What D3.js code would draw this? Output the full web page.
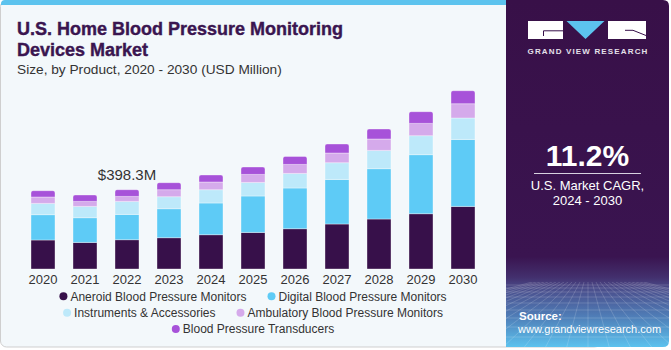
<!DOCTYPE html>
<html>
<head>
<meta charset="utf-8">
<script src="https://cdn.jsdelivr.net/npm/d3@7"></script>
<style>
  html, body { margin: 0; padding: 0; background: #ffffff; }
  svg { display: block; font-family: "Liberation Sans", Arial, sans-serif; }
</style>
</head>
<body>
<div id="chart"></div>
<script>
'use strict';

// data (USD Million)
const years = ['2020', '2021', '2022', '2023', '2024', '2025', '2026', '2027', '2028', '2029', '2030'];
const aneroid = [145.7, 133.6, 147.2, 157.2, 172.3, 183.8, 202.4, 226.0, 251.2, 277.8, 314.4];
const digital = [127.1, 124.1, 127.1, 145.7, 159.2, 182.8, 204.4, 224.0, 252.7, 296.4, 336.5];
const instruments = [56.8, 56.8, 65.3, 60.3, 66.8, 68.3, 73.3, 83.9, 91.9, 95.4, 107.5];
const ambulatory = [32.1, 25.1, 25.0, 35.2, 38.7, 40.2, 45.2, 48.7, 57.3, 61.8, 71.8];
const transducers = [31.6, 32.1, 33.7, 35.2, 35.2, 37.2, 40.2, 45.2, 50.2, 58.8, 65.3];

const seriesNames = [
    'Aneroid Blood Pressure Monitors',
    'Digital Blood Pressure Monitors',
    'Instruments & Accessories',
    'Ambulatory Blood Pressure Monitors',
    'Blood Pressure Transducers'
];
const seriesColors = ['#37104a', '#5ecbf6', '#bde9fa', '#d5aaeb', '#a752d9'];
const legendRows = [[0, 1], [2, 3], [4]];

const annotatedYear = '2022';
const annotationText = '$398.3M';
const cagrText = '11.2%';

const width = 671, height = 350;

const svg = d3.select('#chart').append('svg')
    .attr('width', width)
    .attr('height', height);

const defs = svg.append('defs');
const grad = defs.append('linearGradient')
    .attr('id', 'sidebg')
    .attr('x1', 0).attr('y1', 0).attr('x2', 0).attr('y2', 1);
[[0, '#381048'], [0.74, '#3a1450'], [0.80, '#43306e'], [0.83, '#4a4c8a'], [0.91, '#4f7cb6'], [1, '#5cc2ee']]
    .forEach(s => grad.append('stop').attr('offset', s[0]).attr('stop-color', s[1]));
defs.append('clipPath').attr('id', 'sideclip')
    .append('rect').attr('x', 506).attr('y', 282).attr('width', 163).attr('height', 65);

// main panel
svg.append('rect')
    .attr('x', 0.5).attr('y', 0.5)
    .attr('width', 600).attr('height', 346.5)
    .attr('rx', 6)
    .attr('fill', '#f3f8fb')
    .attr('stroke', '#cfcfcf');
svg.append('path')
    .attr('d', 'M1,5 V4 Q1,0 5,0 H506 V5 Z')
    .attr('fill', '#5cc3ee');

// side panel
svg.append('path')
    .attr('d', 'M506,0 H663 Q669,0 669,6 V341 Q669,347 663,347 H506 Z')
    .attr('fill', 'url(#sidebg)');

// faint perspective grid at the bottom of the side panel
const grid = svg.append('g').attr('clip-path', 'url(#sideclip)')
    .attr('stroke', '#ffffff').attr('stroke-opacity', 0.16).attr('fill', 'none');
d3.range(-14, 15).forEach(i => {
    grid.append('line')
        .attr('x1', 588 + i * 4).attr('y1', 282)
        .attr('x2', 588 + i * 22).attr('y2', 350);
});
[285, 288, 292, 297, 303, 310, 318, 327, 337, 348].forEach(yy => {
    grid.append('line').attr('x1', 506).attr('x2', 669).attr('y1', yy).attr('y2', yy);
});

// logo
const logo = svg.append('g');
logo.append('rect').attr('x', 528).attr('y', 21).attr('width', 35).attr('height', 18).attr('fill', '#ffffff');
logo.append('path').attr('d', 'M543.5,36 V30.8 H563').attr('stroke', '#37104a').attr('stroke-width', 1).attr('fill', 'none');
logo.append('path').attr('d', 'M566.5,21 H604.5 L585.5,39 Z').attr('fill', '#5cc3ee');
logo.append('rect').attr('x', 608).attr('y', 21).attr('width', 38).attr('height', 18).attr('fill', '#ffffff');
logo.append('path').attr('d', 'M625,30.3 H633 L646,35.5').attr('stroke', '#37104a').attr('stroke-width', 1).attr('fill', 'none');
logo.append('text')
    .attr('x', 588).attr('y', 53.5)
    .attr('text-anchor', 'middle')
    .attr('font-size', 8).attr('font-weight', 'bold')
    .attr('letter-spacing', 1.15)
    .attr('fill', '#e4e0ea')
    .text('GRAND VIEW RESEARCH');

// CAGR block
svg.append('text')
    .attr('x', 587.5).attr('y', 165.5)
    .attr('text-anchor', 'middle')
    .attr('font-size', 30).attr('font-weight', 'bold')
    .attr('fill', '#ffffff')
    .text(cagrText);
svg.append('line')
    .attr('x1', 534).attr('x2', 641).attr('y1', 173.5).attr('y2', 173.5)
    .attr('stroke', '#d8d2e0').attr('stroke-width', 1.2);
svg.append('text')
    .attr('x', 587.5).attr('y', 189.5)
    .attr('text-anchor', 'middle')
    .attr('font-size', 13).attr('fill', '#ffffff')
    .text('U.S. Market CAGR,');
svg.append('text')
    .attr('x', 587.5).attr('y', 204.5)
    .attr('text-anchor', 'middle')
    .attr('font-size', 13).attr('fill', '#ffffff')
    .text('2024 - 2030');

svg.append('text')
    .attr('x', 519).attr('y', 320)
    .attr('font-size', 11.5).attr('font-weight', 'bold')
    .attr('fill', '#ffffff')
    .text('Source:');
svg.append('text')
    .attr('x', 518).attr('y', 333)
    .attr('font-size', 11).attr('fill', '#ffffff')
    .text('www.grandviewresearch.com');

// title
const title = svg.append('text')
    .attr('font-size', 18).attr('font-weight', 'bold')
    .attr('fill', '#3a1550')
    .attr('stroke', '#3a1550').attr('stroke-width', 0.4);
title.append('tspan').attr('x', 17).attr('y', 35).text('U.S. Home Blood Pressure Monitoring');
title.append('tspan').attr('x', 17).attr('y', 56).text('Devices Market');
svg.append('text')
    .attr('x', 17).attr('y', 74)
    .attr('font-size', 13.7).attr('fill', '#333333')
    .text('Size, by Product, 2020 - 2030 (USD Million)');

// chart
const table = years.map((yr, i) => ({
    year: yr,
    s0: aneroid[i], s1: digital[i], s2: instruments[i], s3: ambulatory[i], s4: transducers[i]
}));
const keys = ['s0', 's1', 's2', 's3', 's4'];
const stacked = d3.stack().keys(keys)(table);

const x = d3.scaleBand()
    .domain(years)
    .range([10, 496])
    .paddingInner(0.4286)
    .paddingOuter(0.5);
const y = d3.scaleLinear()
    .domain([0, 398.3])
    .range([269, 189.7]);

function topRounded(x0, y0, w, h, r) {
    return `M${x0},${y0 + h} V${y0 + r} Q${x0},${y0} ${x0 + r},${y0} H${x0 + w - r} Q${x0 + w},${y0} ${x0 + w},${y0 + r} V${y0 + h} Z`;
}

const bars = svg.append('g');
stacked.forEach((layer, li) => {
    const g = bars.append('g').attr('fill', seriesColors[li]);
    g.selectAll('path')
        .data(layer)
        .join('path')
        .attr('d', d => {
            const x0 = x(d.data.year), w = x.bandwidth();
            const y0 = y(d[1]), h = y(d[0]) - y(d[1]);
            return topRounded(x0, y0, w, h, li === keys.length - 1 ? 2 : 0);
        })
        .attr('stroke', '#ffffff')
        .attr('stroke-opacity', 0.45)
        .attr('stroke-width', 0.8);
});

// annotation above 2022
const annIdx = years.indexOf(annotatedYear);
const annTotal = stacked[stacked.length - 1][annIdx][1];
svg.append('text')
    .attr('x', x(annotatedYear) + x.bandwidth() / 2)
    .attr('y', y(annTotal) - 10)
    .attr('text-anchor', 'middle')
    .attr('font-size', 15)
    .attr('fill', '#333333')
    .text(annotationText);

// year axis
const axis = svg.append('g')
    .attr('transform', 'translate(0,269)')
    .call(d3.axisBottom(x).tickSize(0).tickPadding(6));
axis.select('.domain').remove();
axis.selectAll('text')
    .attr('font-family', '"Liberation Sans", Arial, sans-serif')
    .attr('font-size', 13)
    .attr('fill', '#333333');

// legend
const legendCenter = 253;
const legendY = [300.5, 317, 333.3];
legendRows.forEach((row, ri) => {
    const g = svg.append('g');
    let cx = 0;
    row.forEach((si, k) => {
        if (k > 0) cx += 21;
        g.append('circle')
            .attr('cx', cx + 4).attr('cy', legendY[ri] - 4.2)
            .attr('r', 4)
            .attr('fill', seriesColors[si]);
        const t = g.append('text')
            .attr('x', cx + 11).attr('y', legendY[ri])
            .attr('font-size', 12)
            .attr('fill', '#333333')
            .text(seriesNames[si]);
        cx += 11 + t.node().getComputedTextLength();
    });
    g.attr('transform', `translate(${legendCenter - cx / 2},0)`);
});
</script>
</body>
</html>
